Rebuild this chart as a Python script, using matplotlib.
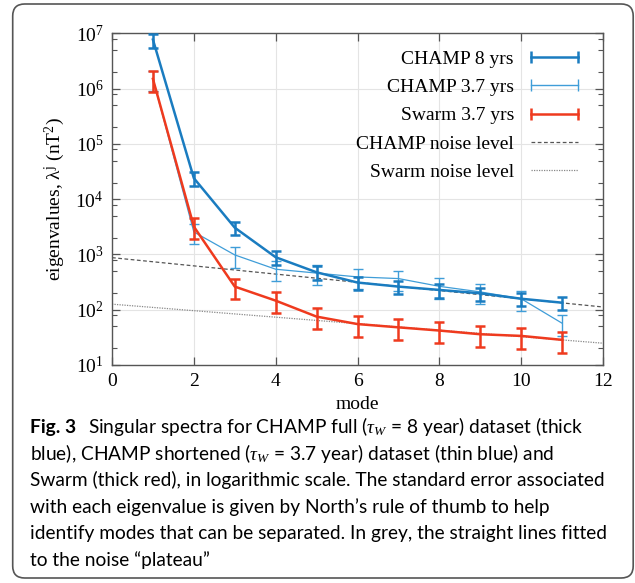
import numpy as np
import matplotlib
matplotlib.use('Agg')
import matplotlib.pyplot as plt
from matplotlib.lines import Line2D
from matplotlib.patches import FancyBboxPatch
from matplotlib.ticker import LogLocator, NullFormatter

# Datos
modes = [1, 2, 3, 4, 5, 6, 7, 8, 9, 10, 11]

champ8 = [7.7e6, 2.4e4, 3050, 890, 475, 310, 262, 228, 198, 158, 134]
champ8_err = [2.2e6, 6.5e3, 800, 240, 130, 84, 71, 62, 54, 43, 36]

champ37 = [1.5e6, 2550, 980, 540, 460, 392, 366, 265, 210, 158, 57]
champ37_err = [6.0e5, 1020, 400, 215, 185, 157, 146, 106, 84, 63, 23]

swarm = [1.5e6, 3190, 262, 146, 75, 55, 48, 42, 36, 33.6, 28.5]
swarm_err = [6.2e5, 1300, 105, 60, 31, 22.5, 19.7, 17, 14.8, 13.8, 11.7]

noise_x = [0, 12]
champ_noise = [875, 112]
swarm_noise = [126, 24.8]

labels = ['CHAMP 8 yrs', 'CHAMP 3.7 yrs', 'Swarm 3.7 yrs',
          'CHAMP noise level', 'Swarm noise level']

caption = [
    'blue), CHAMP shortened ($\\tau_W$ = 3.7 year) dataset (thin blue) and',
    'Swarm (thick red), in logarithmic scale. The standard error associated',
    'with each eigenvalue is given by North\u2019s rule of thumb to help',
    'identify modes that can be separated. In grey, the straight lines fitted',
    'to the noise \u201cplateau\u201d',
]
caption_first = 'Singular spectra for CHAMP full ($\\tau_W$ = 8 year) dataset (thick'

c_thick = '#1a7cc0'
c_thin = '#3f9dd8'
c_red = '#ef3a1e'

plt.rcParams['font.family'] = ['Liberation Serif', 'DejaVu Serif']
plt.rcParams['mathtext.fontset'] = 'custom'
plt.rcParams['mathtext.rm'] = 'Liberation Serif'
plt.rcParams['mathtext.it'] = 'Liberation Serif:italic'

W, H = 635, 583
fig = plt.figure(figsize=(W / 100, H / 100), dpi=100)
ax = fig.add_axes([112 / W, 1 - 365 / H, (603 - 112) / W, (365 - 33.3) / H])

# Caja redondeada alrededor de todo
box = FancyBboxPatch((0.127, 0.05), 6.205, 5.74,
                     boxstyle='round,pad=0,rounding_size=0.12',
                     transform=fig.dpi_scale_trans, fill=False,
                     edgecolor='#555555', lw=1.2)
fig.patches.append(box)

# Líneas de ruido
ax.plot(noise_x, champ_noise, ls=(0, (3, 2)), color='#555555', lw=0.9, zorder=2)
ax.plot(noise_x, swarm_noise, ls=(0, (1, 1)), color='#888888', lw=0.9, zorder=2)

# Espectros
ax.errorbar(modes, champ37, yerr=champ37_err, color=c_thin, lw=0.9,
            elinewidth=1.0, capsize=3.5, capthick=1.0, zorder=3)
ax.errorbar(modes, champ8, yerr=champ8_err, color=c_thick, lw=1.8,
            elinewidth=1.8, capsize=3.5, capthick=1.8, zorder=4)
ax.errorbar(modes, swarm, yerr=swarm_err, color=c_red, lw=1.8,
            elinewidth=1.8, capsize=3.5, capthick=1.8, zorder=5)

ax.set_yscale('log')
ax.set_xlim(0, 12)
ax.set_ylim(10, 1e7)
ax.set_xticks(range(0, 13, 2))
ax.yaxis.set_major_locator(LogLocator(base=10, numticks=10))
ax.yaxis.set_minor_locator(LogLocator(base=10, subs=[2, 5, 8], numticks=20))
ax.yaxis.set_minor_formatter(NullFormatter())

ax.grid(True, which='major', color='#e4e4e4', lw=0.8, zorder=0)
ax.set_axisbelow(True)
for s in ax.spines.values():
    s.set_color('#555555')
    s.set_linewidth(1.0)
ax.tick_params(which='both', direction='in', top=True, right=True,
               color='#555555', labelsize=14, labelcolor='black')
ax.tick_params(which='major', length=6, width=0.9, pad=6)
ax.tick_params(which='minor', length=3.5, width=0.8)

ax.set_xlabel('mode', fontsize=14, labelpad=4)
ax.set_ylabel('eigenvalues, \u03bb$^\\mathrm{j}$ (nT$^2$)', fontsize=14, labelpad=6)

# Leyenda (texto alineado a la derecha, símbolo a la derecha)
handles = [
    Line2D([], [], color=c_thick, lw=1.8, marker='|', markersize=9, mew=1.8),
    Line2D([], [], color=c_thin, lw=1.0, marker='|', markersize=9, mew=1.0),
    Line2D([], [], color=c_red, lw=1.8, marker='|', markersize=9, mew=1.8),
    Line2D([], [], color='#555555', lw=0.9, ls=(0, (3, 2))),
    Line2D([], [], color='#888888', lw=0.9, ls=(0, (1, 1))),
]
leg = ax.legend(handles, labels, loc='upper right', frameon=False,
                markerfirst=False, numpoints=2, fontsize=14,
                handlelength=3.0, labelspacing=0.55, handletextpad=0.6,
                borderaxespad=0.3, bbox_to_anchor=(0.989, 0.99))

# Pie de figura
cap_font = ['Lato', 'DejaVu Sans']
fs = 13.8
y0 = 1 - 427 / H
t_fig = fig.text(30 / W, y0, 'Fig. 3', fontsize=fs, fontweight='bold',
                 family=cap_font, va='center')
fig.canvas.draw()
bb = t_fig.get_window_extent(fig.canvas.get_renderer())
fig.text((bb.x1 + 12) / W, y0, caption_first, fontsize=fs,
         family=cap_font, va='center')
for i, line in enumerate(caption):
    fig.text(30 / W, 1 - (453.5 + 26.6 * i) / H, line, fontsize=fs,
             family=cap_font, va='center')

fig.savefig('out.png', dpi=100)
